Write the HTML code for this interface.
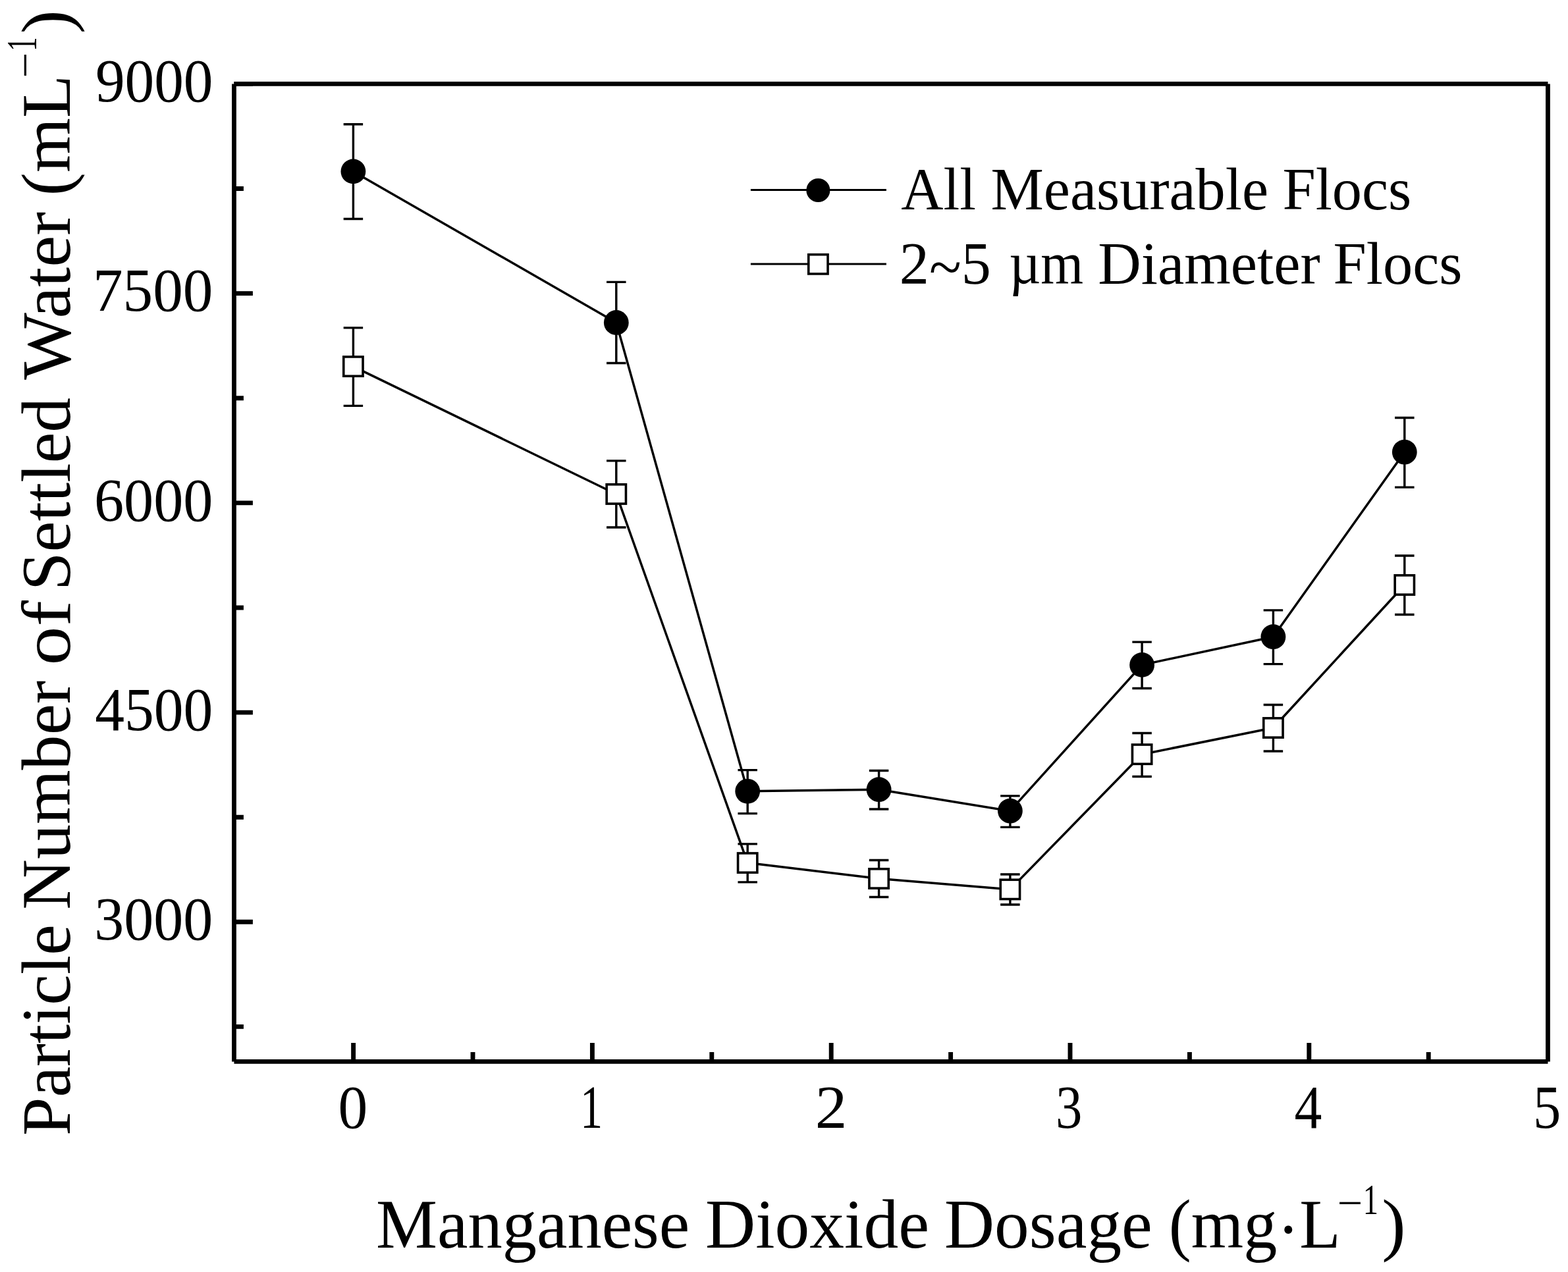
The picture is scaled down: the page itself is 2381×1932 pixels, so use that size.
<!DOCTYPE html>
<html><head><meta charset="utf-8"><title>Particle Number of Settled Water vs Manganese Dioxide Dosage</title>
<style>html,body{margin:0;padding:0;background:#fff;overflow:hidden;}svg{display:block;}</style>
</head><body>
<svg width="2381" height="1932" viewBox="0 0 2381 1932">
<rect x="0" y="0" width="2381" height="1932" fill="#fff"/>
<path d="M355.45 127.45H2350.45 M2350.45 127.45V1612.45 M2350.45 1612.45H355.45 M355.45 1612.45V127.45" fill="none" stroke="#000" stroke-width="6.8"/>
<path d="M355.45 127.45H383.9 M355.45 445.66H383.9 M355.45 763.88H383.9 M355.45 1082.09H383.9 M355.45 1400.31H383.9 M355.45 286.56H369.9 M355.45 604.77H369.9 M355.45 922.99H369.9 M355.45 1241.20H369.9 M355.45 1559.41H369.9 M536.60 1612.45V1584.0 M899.40 1612.45V1584.0 M1262.20 1612.45V1584.0 M1625.00 1612.45V1584.0 M1987.80 1612.45V1584.0 M718.00 1612.45V1598.0 M1080.80 1612.45V1598.0 M1443.60 1612.45V1598.0 M1806.40 1612.45V1598.0 M2169.20 1612.45V1598.0" stroke="#000" stroke-width="6.9" fill="none"/>
<path d="M536.40 260.40 L935.80 490.00 L1135.20 1201.80 L1334.60 1199.20 L1533.90 1231.70 L1734.10 1009.90 L1933.40 967.20 L2132.80 686.70" stroke="#000" stroke-width="3.5" fill="none" stroke-linejoin="round"/>
<path d="M536.40 556.60 L935.80 750.45 L1135.20 1310.60 L1334.60 1334.45 L1533.90 1350.90 L1734.10 1145.70 L1933.40 1105.50 L2132.80 888.50" stroke="#000" stroke-width="3.5" fill="none" stroke-linejoin="round"/>
<path d="M536.40 188.80V332.50 M521.65 188.80H551.15 M521.65 332.50H551.15 M935.80 428.40V551.50 M921.05 428.40H950.55 M921.05 551.50H950.55 M1135.20 1169.60V1235.60 M1120.45 1169.60H1149.95 M1120.45 1235.60H1149.95 M1334.60 1170.45V1229.00 M1319.85 1170.45H1349.35 M1319.85 1229.00H1349.35 M1533.90 1208.90V1256.40 M1519.15 1208.90H1548.65 M1519.15 1256.40H1548.65 M1734.10 975.10V1045.50 M1719.35 975.10H1748.85 M1719.35 1045.50H1748.85 M1933.40 926.90V1008.60 M1918.65 926.90H1948.15 M1918.65 1008.60H1948.15 M2132.80 634.50V740.10 M2118.05 634.50H2147.55 M2118.05 740.10H2147.55 M536.40 497.90V616.40 M521.65 497.90H551.15 M521.65 616.40H551.15 M935.80 699.90V801.00 M921.05 699.90H950.55 M921.05 801.00H950.55 M1135.20 1281.90V1339.90 M1120.45 1281.90H1149.95 M1120.45 1339.90H1149.95 M1334.60 1306.50V1362.50 M1319.85 1306.50H1349.35 M1319.85 1362.50H1349.35 M1533.90 1328.00V1374.00 M1519.15 1328.00H1548.65 M1519.15 1374.00H1548.65 M1734.10 1113.50V1179.50 M1719.35 1113.50H1748.85 M1719.35 1179.50H1748.85 M1933.40 1070.50V1141.00 M1918.65 1070.50H1948.15 M1918.65 1141.00H1948.15 M2132.80 844.00V933.50 M2118.05 844.00H2147.55 M2118.05 933.50H2147.55" stroke="#000" stroke-width="3.4" fill="none"/>
<circle cx="536.40" cy="260.40" r="18.9" fill="#000"/>
<circle cx="935.80" cy="490.00" r="18.9" fill="#000"/>
<circle cx="1135.20" cy="1201.80" r="18.9" fill="#000"/>
<circle cx="1334.60" cy="1199.20" r="18.9" fill="#000"/>
<circle cx="1533.90" cy="1231.70" r="18.9" fill="#000"/>
<circle cx="1734.10" cy="1009.90" r="18.9" fill="#000"/>
<circle cx="1933.40" cy="967.20" r="18.9" fill="#000"/>
<circle cx="2132.80" cy="686.70" r="18.9" fill="#000"/>
<rect x="521.75" y="541.95" width="29.3" height="29.3" fill="#fff" stroke="#000" stroke-width="3.6"/>
<rect x="921.15" y="735.80" width="29.3" height="29.3" fill="#fff" stroke="#000" stroke-width="3.6"/>
<rect x="1120.55" y="1295.95" width="29.3" height="29.3" fill="#fff" stroke="#000" stroke-width="3.6"/>
<rect x="1319.95" y="1319.80" width="29.3" height="29.3" fill="#fff" stroke="#000" stroke-width="3.6"/>
<rect x="1519.25" y="1336.25" width="29.3" height="29.3" fill="#fff" stroke="#000" stroke-width="3.6"/>
<rect x="1719.45" y="1131.05" width="29.3" height="29.3" fill="#fff" stroke="#000" stroke-width="3.6"/>
<rect x="1918.75" y="1090.85" width="29.3" height="29.3" fill="#fff" stroke="#000" stroke-width="3.6"/>
<rect x="2118.15" y="873.85" width="29.3" height="29.3" fill="#fff" stroke="#000" stroke-width="3.6"/>
<path d="M1139.9 288.5H1345.9 M1139.9 401.0H1345.9" stroke="#000" stroke-width="3" fill="none"/>
<circle cx="1242.4" cy="289.0" r="18.0" fill="#000"/>
<rect x="1227.75" y="386.65" width="29.3" height="29.3" fill="#fff" stroke="#000" stroke-width="3.6"/>
<g font-family='"Liberation Serif", "Times New Roman", serif' fill="#000">
<text x="144.90" y="154.25" font-size="92.3" textLength="178.59" lengthAdjust="spacingAndGlyphs">9000</text>
<text x="140.97" y="472.46" font-size="92.3" textLength="182.49" lengthAdjust="spacingAndGlyphs">7500</text>
<text x="142.99" y="790.68" font-size="92.3" textLength="180.43" lengthAdjust="spacingAndGlyphs">6000</text>
<text x="144.20" y="1108.89" font-size="92.3" textLength="179.19" lengthAdjust="spacingAndGlyphs">4500</text>
<text x="143.31" y="1427.11" font-size="92.3" textLength="180.10" lengthAdjust="spacingAndGlyphs">3000</text>
<text x="513.61" y="1713.00" font-size="92.3" textLength="44.74" lengthAdjust="spacingAndGlyphs">0</text>
<text x="880.97" y="1713.00" font-size="92.3" textLength="34.22" lengthAdjust="spacingAndGlyphs">1</text>
<text x="1237.78" y="1713.00" font-size="92.3" textLength="48.65" lengthAdjust="spacingAndGlyphs">2</text>
<text x="1602.97" y="1713.00" font-size="92.3" textLength="40.32" lengthAdjust="spacingAndGlyphs">3</text>
<text x="1965.41" y="1713.00" font-size="92.3" textLength="41.86" lengthAdjust="spacingAndGlyphs">4</text>
<text x="2328.09" y="1713.00" font-size="92.3" textLength="42.25" lengthAdjust="spacingAndGlyphs">5</text>
<text y="317.8" font-size="91.5"><tspan x="1368.28" textLength="113.59" lengthAdjust="spacingAndGlyphs">All</tspan> <tspan x="1504.48" textLength="421.54" lengthAdjust="spacingAndGlyphs">Measurable</tspan> <tspan x="1947.38" textLength="195.86" lengthAdjust="spacingAndGlyphs">Flocs</tspan></text>
<text y="430.7" font-size="91.5"><tspan x="1365.86" textLength="138.89" lengthAdjust="spacingAndGlyphs">2<tspan dy="5.5">~</tspan><tspan dy="-5.5">5</tspan></tspan> <tspan x="1532.27" textLength="112.90" lengthAdjust="spacingAndGlyphs">µm</tspan> <tspan x="1667.37" textLength="337.32" lengthAdjust="spacingAndGlyphs">Diameter</tspan> <tspan x="2024.58" textLength="195.86" lengthAdjust="spacingAndGlyphs">Flocs</tspan></text>
<text y="1894.86" font-size="105.2"><tspan x="571.02" textLength="476.21" lengthAdjust="spacingAndGlyphs">Manganese</tspan> <tspan x="1071.09" textLength="339.89" lengthAdjust="spacingAndGlyphs">Dioxide</tspan> <tspan x="1434.10" textLength="315.65" lengthAdjust="spacingAndGlyphs">Dosage</tspan> <tspan x="1774.73" textLength="260.94" lengthAdjust="spacingAndGlyphs">(mg<tspan dy="8.4">·</tspan><tspan dy="-8.4">L</tspan></tspan><tspan x="2034.48" y="1843.00" font-size="65" textLength="30.95" lengthAdjust="spacingAndGlyphs">–</tspan><tspan x="2069.69" y="1844.00" font-size="65" textLength="23.21" lengthAdjust="spacingAndGlyphs">1</tspan><tspan x="2098.27" y="1894.86" textLength="36.33" lengthAdjust="spacingAndGlyphs">)</tspan></text>
<g transform="translate(106.1 1725.00) rotate(-90)">
<text y="0" font-size="105.2"><tspan x="0.01" textLength="320.74" lengthAdjust="spacingAndGlyphs">Particle</tspan> <tspan x="343.22" textLength="347.96" lengthAdjust="spacingAndGlyphs">Number</tspan> <tspan x="714.51" textLength="98.46" lengthAdjust="spacingAndGlyphs">of</tspan> <tspan x="827.87" textLength="293.31" lengthAdjust="spacingAndGlyphs">Settled</tspan> <tspan x="1148.30" textLength="254.74" lengthAdjust="spacingAndGlyphs">Water</tspan> <tspan x="1427.54" textLength="183.73" lengthAdjust="spacingAndGlyphs">(mL</tspan><tspan x="1610.48" y="-52.10" font-size="65" textLength="31.04" lengthAdjust="spacingAndGlyphs">–</tspan><tspan x="1647.21" y="-51.10" font-size="65" textLength="21.43" lengthAdjust="spacingAndGlyphs">1</tspan><tspan x="1673.70" y="0.00" textLength="36.07" lengthAdjust="spacingAndGlyphs">)</tspan></text>
</g>
</g>
</svg>
</body></html>
